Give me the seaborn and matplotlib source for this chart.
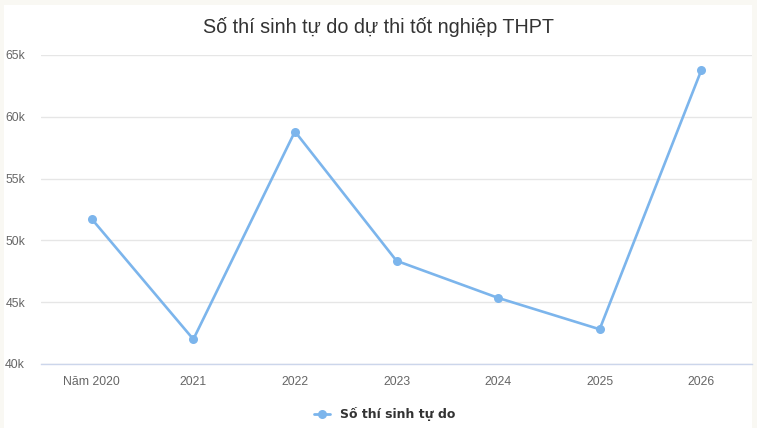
import matplotlib
matplotlib.use("Agg")
import matplotlib.pyplot as plt
import matplotlib.patches as patches
from matplotlib.lines import Line2D
import seaborn as sns

# data
years = ["Năm 2020", "2021", "2022", "2023", "2024", "2025", "2026"]
candidates = [51730, 42000, 58810, 48350, 45350, 42810, 63750]
y_ticks = [40000, 45000, 50000, 55000, 60000, 65000]
y_labels = ["40k", "45k", "50k", "55k", "60k", "65k"]
series_name = "Số thí sinh tự do"
title = "Số thí sinh tự do dự thi tốt nghiệp THPT"

line_color = "#7cb5ec"

def main():
    sns.set_style("white")
    plt.rcParams["font.family"] = ["Liberation Sans", "DejaVu Sans"]

    W, H = 757, 428
    fig = plt.figure(figsize=(W / 100, H / 100), dpi=100)
    fig.patch.set_facecolor("#f9f8f3")
    # white card on top of the off-white page
    fig.patches.append(patches.Rectangle((4 / W, 0), 748 / W, 423 / H,
                                         transform=fig.transFigure,
                                         facecolor="white", edgecolor="none", zorder=-5))

    ax = fig.add_axes([41 / W, 64 / H, 711 / W, 309 / H])
    ax.set_zorder(1)
    ax.set_facecolor("none")

    sns.lineplot(x=years, y=candidates, ax=ax, color=line_color, linewidth=1.9,
                 marker="o", markersize=6.5, markeredgewidth=0, sort=False)

    ax.set_xlim(-0.5, len(years) - 0.5)
    ax.set_ylim(40000, 65000)
    ax.set_yticks(y_ticks)
    ax.set_yticklabels(y_labels)
    ax.grid(axis="y", color="#e6e6e6", linewidth=1)
    ax.set_axisbelow(True)

    for s in ["top", "right", "left"]:
        ax.spines[s].set_visible(False)
    ax.spines["bottom"].set_color("#ccd6eb")
    ax.spines["bottom"].set_linewidth(1)

    ax.tick_params(axis="x", length=0, pad=8.5, labelsize=8.8, labelcolor="#666666")
    ax.tick_params(axis="y", length=0, pad=11.5, labelsize=8.8, labelcolor="#666666")
    ax.set_xlabel("")
    ax.set_ylabel("")

    fig.text(0.5, 1 - 27 / H, title, ha="center", va="center",
             fontsize=14.2, color="#333333")

    handle = Line2D([0], [0], color=line_color, linewidth=2, marker="o",
                    markersize=6.5, markeredgewidth=0)
    leg = fig.legend([handle], [series_name], loc="center",
                     bbox_to_anchor=(384.5 / W, 1 - 414 / H), frameon=False,
                     handlelength=1.3, handletextpad=0.8,
                     prop={"family": "DejaVu Sans", "weight": "bold", "size": 9})
    for t in leg.get_texts():
        t.set_color("#333333")

    fig.savefig("out.png", dpi=100, facecolor=fig.get_facecolor())


if __name__ == "__main__":
    main()
